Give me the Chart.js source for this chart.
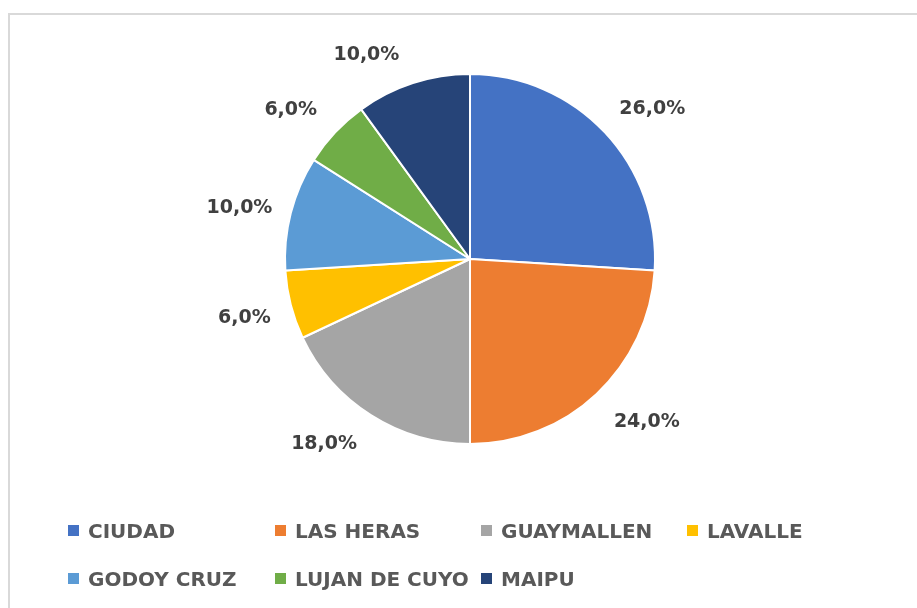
<!DOCTYPE html>
<html>
<head>
<meta charset="utf-8">
<script src="https://cdn.jsdelivr.net/npm/chart.js@4"></script>
<style>
  html, body { margin: 0; padding: 0; background: #fff; }
  #wrap { position: relative; width: 917px; height: 608px; overflow: hidden; }
  #frame {
    position: absolute; left: 8px; top: 13px; width: 930px; height: 620px;
    border: 2px solid #d9d9d9; box-sizing: border-box;
  }
  #chart { position: absolute; left: 0; top: 0; }
  .leg {
    position: absolute; font: bold 20px "DejaVu Sans", sans-serif; color: #595959;
    white-space: nowrap; line-height: 20px;
  }
  .leg i { position: absolute; left: 0; top: 4px; width: 11px; height: 11px; }
  .leg span { position: absolute; left: 20px; top: 0; }
</style>
</head>
<body>
<div id="wrap">
  <div id="frame"></div>
  <canvas id="chart" width="917" height="608"></canvas>
  <div id="legend"></div>
</div>
<script>
// Data
const categories = ['CIUDAD', 'LAS HERAS', 'GUAYMALLEN', 'LAVALLE', 'GODOY CRUZ', 'LUJAN DE CUYO', 'MAIPU'];
const shares = [26, 24, 18, 6, 10, 6, 10];
const colors = ['#4472C4', '#ED7D31', '#A5A5A5', '#FFC000', '#5B9BD5', '#70AD47', '#264478'];

// small nudges so labels sit where the original "best fit" put them
const labelNudge = [[11, 11], [16, -8], [-20, -13], [2, 1], [-3, 7], [-8, 12], [-31, 20]];

// Percentage labels outside the slices
const outsideLabels = {
    id: 'outsideLabels',
    afterDatasetsDraw(chart) {
        const ctx = chart.ctx;
        const meta = chart.getDatasetMeta(0);
        ctx.save();
        ctx.font = 'bold 19px "DejaVu Sans", sans-serif';
        ctx.fillStyle = '#404040';
        ctx.textAlign = 'center';
        ctx.textBaseline = 'middle';
        meta.data.forEach((arc, i) => {
            const p = arc.getProps(['x', 'y', 'startAngle', 'endAngle', 'outerRadius'], true);
            const mid = (p.startAngle + p.endAngle) / 2;
            const r = p.outerRadius * 1.27;
            const text = shares[i].toFixed(1).replace('.', ',') + '%';
            ctx.fillText(text,
                p.x + Math.cos(mid) * r + labelNudge[i][0],
                p.y + Math.sin(mid) * r + labelNudge[i][1]);
        });
        ctx.restore();
    }
};

new Chart(document.getElementById('chart'), {
    type: 'pie',
    data: {
        labels: categories,
        datasets: [{
            data: shares,
            backgroundColor: colors,
            borderColor: '#ffffff',
            borderWidth: 2
        }]
    },
    options: {
        responsive: false,
        animation: false,
        layout: { padding: { left: 284, right: 261, top: 73, bottom: 163 } },
        plugins: {
            legend: { display: false },
            tooltip: { enabled: false }
        }
    },
    plugins: [outsideLabels]
});

// Legend (two rows, four columns)
const legendCols = [68, 275, 481, 687];
const legendRows = [521, 569];
const legend = document.getElementById('legend');
categories.forEach((name, i) => {
    const item = document.createElement('div');
    item.className = 'leg';
    item.style.left = legendCols[i % 4] + 'px';
    item.style.top = legendRows[Math.floor(i / 4)] + 'px';
    item.innerHTML = `<i style="background:${colors[i]}"></i><span>${name}</span>`;
    legend.appendChild(item);
});
</script>
</body>
</html>
